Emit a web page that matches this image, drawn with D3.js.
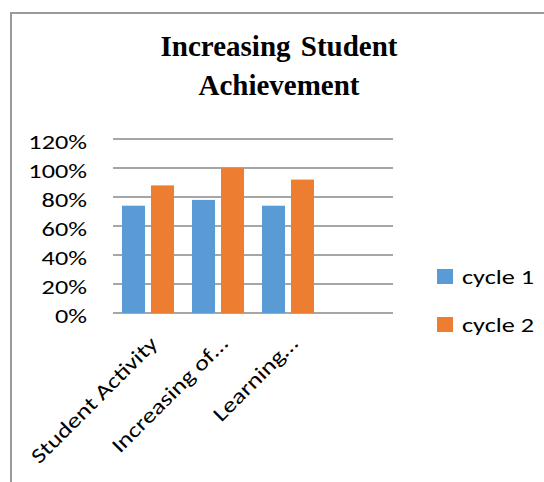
<!DOCTYPE html>
<html><head><meta charset="utf-8">
<script src="https://cdn.jsdelivr.net/npm/d3@7"></script>
<style>body{margin:0;background:#fff}svg{display:block}</style>
</head><body>
<svg id="c" width="544" height="482"></svg>
<script>
const categories = ["Student Activity", "Increasing of…", "Learning…", ""];
const cycle1 = [0.74, 0.78, 0.74, null];
const cycle2 = [0.88, 1.00, 0.92, null];
const seriesNames = ["cycle 1", "cycle 2"];
const yTicks = [0, 0.2, 0.4, 0.6, 0.8, 1.0, 1.2];
const titleLines = ["Increasing Student", "Achievement"];

const colors = ["#5B9BD5", "#ED7D31"];
const svg = d3.select("#c");
const font = "Carlito, Lato, 'Open Sans', sans-serif";
const stretch = 1.25;

// outer border
svg.append("rect").attr("x", 11).attr("y", 13).attr("width", 560).attr("height", 500)
  .attr("fill", "#fff").attr("stroke", "#999").attr("stroke-width", 2);

// title
svg.append("g").selectAll("text").data(titleLines).join("text")
  .attr("x", 279).attr("y", (d, i) => 56 + i * 39)
  .attr("text-anchor", "middle")
  .attr("font-family", "'Liberation Serif','Times New Roman',serif")
  .attr("font-weight", "bold").attr("font-size", 29).attr("fill", "#000")
  .attr("word-spacing", 3)
  .text(d => d);

const x = d3.scaleBand().domain(categories.map((d, i) => i)).range([113, 393]);
const y = d3.scaleLinear().domain([0, 1.2]).range([313, 139]);

// gridlines
svg.append("g").selectAll("line").data(yTicks).join("line")
  .attr("x1", 113).attr("x2", 393)
  .attr("y1", d => y(d)).attr("y2", d => y(d))
  .attr("stroke", "#a6a6a6").attr("stroke-width", 2);

// y tick labels
svg.append("g").selectAll("text").data(yTicks).join("text")
  .attr("transform", d => `translate(87,${y(d) + 10}) scale(${stretch},1)`)
  .attr("text-anchor", "end").attr("font-family", font).attr("font-size", 21).attr("fill", "#000")
  .text(d => d3.format(".0%")(d));

// bars
const bw = 23, gap = 6;
const series = [cycle1, cycle2];
series.forEach((vals, s) => {
  svg.append("g").selectAll("rect").data(vals.map((v, i) => ({v, i})).filter(d => d.v != null)).join("rect")
    .attr("x", d => x(d.i) + x.bandwidth() / 2 - bw - gap / 2 + s * (bw + gap))
    .attr("y", d => y(d.v))
    .attr("width", bw)
    .attr("height", d => y(0) - y(d.v))
    .attr("fill", colors[s]);
});

// x labels
svg.append("g").selectAll("text").data(categories.map((c, i) => ({c, i})).filter(d => d.c)).join("text")
  .attr("transform", d => `translate(${x(d.i) + x.bandwidth() / 2 + 11},${345}) rotate(-45) scale(${stretch},1)`)
  .attr("text-anchor", "end").attr("font-family", font).attr("font-size", 21).attr("fill", "#000")
  .text(d => d.c);

// legend
const lg = svg.append("g").selectAll("g").data(seriesNames).join("g")
  .attr("transform", (d, i) => `translate(437,${269 + i * 48})`);
lg.append("rect").attr("width", 16).attr("height", 15).attr("fill", (d, i) => colors[i]);
lg.append("text").attr("transform", `translate(25,15) scale(${stretch},1)`)
  .attr("font-family", font).attr("font-size", 21)
  .attr("fill", "#000").text(d => d);
</script>
</body></html>
